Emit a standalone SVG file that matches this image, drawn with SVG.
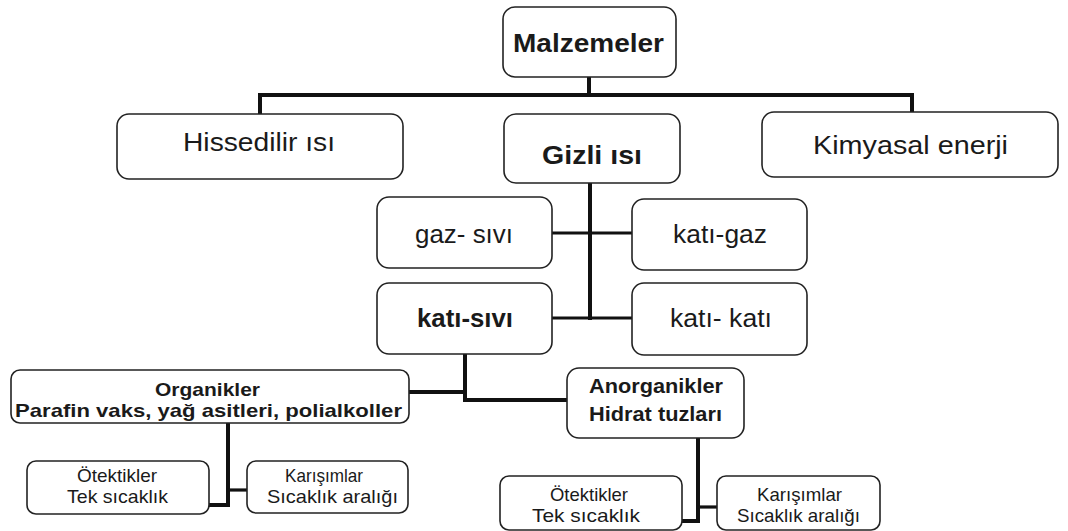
<svg xmlns="http://www.w3.org/2000/svg" width="1068" height="531" viewBox="0 0 1068 531">
<style>
.box{fill:#fff;stroke:#222;stroke-width:1.6}
.t{font-family:"Liberation Sans",Arial,sans-serif;fill:#1a1a1a}
.b{font-weight:bold}
.c{fill:none;stroke:#111;stroke-linecap:square;stroke-linejoin:miter}
.thick{stroke-width:4}
.thin{stroke-width:3.2}
</style>
<rect width="1068" height="531" fill="#fff"/>
<g id="connectors">
<path class="c thick" d="M589,77 V95 M260,114 V95 H912 V112"/>
<path class="c thick" d="M590,183 V318"/>
<path class="c thin" d="M552,233 H632 M552,318 H632"/>
<path class="c thick" d="M409,392 H465 M465,354 V400 H567"/>
<path class="c thick" d="M228,423 V505 H209"/>
<path class="c thin" d="M228,490 H247"/>
<path class="c thick" d="M698,438 V521 H682"/>
<path class="c thin" d="M698,507 H717"/>
</g>
<g id="malzemeler">
<rect class="box" x="503" y="7" width="173" height="70" rx="12"/>
<text class="t b" x="513" y="52" font-size="26" textLength="151" lengthAdjust="spacingAndGlyphs">Malzemeler</text>
</g>
<g id="hissedilir">
<rect class="box" x="117" y="114" width="286" height="65" rx="12"/>
<text class="t" x="183" y="151" font-size="26" textLength="152" lengthAdjust="spacingAndGlyphs">Hissedilir ısı</text>
</g>
<g id="gizli">
<rect class="box" x="504" y="114" width="176" height="69" rx="12"/>
<text class="t b" x="542" y="164" font-size="26" textLength="100" lengthAdjust="spacingAndGlyphs">Gizli ısı</text>
</g>
<g id="kimyasal">
<rect class="box" x="762" y="112" width="296" height="65" rx="12"/>
<text class="t" x="813" y="154" font-size="26" textLength="195" lengthAdjust="spacingAndGlyphs">Kimyasal enerji</text>
</g>
<g id="gaz-sivi">
<rect class="box" x="377" y="197" width="175" height="71" rx="12"/>
<text class="t" x="415" y="243" font-size="25" textLength="98" lengthAdjust="spacingAndGlyphs">gaz- sıvı</text>
</g>
<g id="kati-gaz">
<rect class="box" x="632" y="199" width="175" height="71" rx="12"/>
<text class="t" x="673" y="243" font-size="25" textLength="94" lengthAdjust="spacingAndGlyphs">katı-gaz</text>
</g>
<g id="kati-sivi">
<rect class="box" x="377" y="283" width="175" height="71" rx="12"/>
<text class="t b" x="417" y="327" font-size="25" textLength="96" lengthAdjust="spacingAndGlyphs">katı-sıvı</text>
</g>
<g id="kati-kati">
<rect class="box" x="632" y="283" width="175" height="72" rx="12"/>
<text class="t" x="670" y="327" font-size="25" textLength="102" lengthAdjust="spacingAndGlyphs">katı- katı</text>
</g>
<g id="organikler">
<rect class="box" x="11" y="370" width="398" height="53" rx="9"/>
<text class="t b" x="155" y="396" font-size="19" textLength="105" lengthAdjust="spacingAndGlyphs">Organikler</text>
<text class="t b" x="15" y="417" font-size="19" textLength="387" lengthAdjust="spacingAndGlyphs">Parafin vaks, yağ asitleri, polialkoller</text>
</g>
<g id="anorganikler">
<rect class="box" x="567" y="368" width="177" height="70" rx="12"/>
<text class="t b" x="589" y="393" font-size="21" textLength="134" lengthAdjust="spacingAndGlyphs">Anorganikler</text>
<text class="t b" x="589" y="421" font-size="21" textLength="133" lengthAdjust="spacingAndGlyphs">Hidrat tuzları</text>
</g>
<g id="otektikler-1">
<rect class="box" x="27" y="461" width="182" height="53" rx="9"/>
<text class="t" x="77" y="482" font-size="19" textLength="80" lengthAdjust="spacingAndGlyphs">Ötektikler</text>
<text class="t" x="67" y="503" font-size="19" textLength="101" lengthAdjust="spacingAndGlyphs">Tek sıcaklık</text>
</g>
<g id="karisimlar-1">
<rect class="box" x="247" y="461" width="161" height="52" rx="9"/>
<text class="t" x="285" y="482" font-size="19" textLength="78" lengthAdjust="spacingAndGlyphs">Karışımlar</text>
<text class="t" x="267" y="503" font-size="19" textLength="131" lengthAdjust="spacingAndGlyphs">Sıcaklık aralığı</text>
</g>
<g id="otektikler-2">
<rect class="box" x="500" y="476" width="182" height="54" rx="9"/>
<text class="t" x="550" y="501" font-size="19" textLength="78" lengthAdjust="spacingAndGlyphs">Ötektikler</text>
<text class="t" x="532" y="522" font-size="19" textLength="108" lengthAdjust="spacingAndGlyphs">Tek sıcaklık</text>
</g>
<g id="karisimlar-2">
<rect class="box" x="717" y="476" width="163" height="54" rx="9"/>
<text class="t" x="757" y="501" font-size="19" textLength="85" lengthAdjust="spacingAndGlyphs">Karışımlar</text>
<text class="t" x="737" y="522" font-size="19" textLength="123" lengthAdjust="spacingAndGlyphs">Sıcaklık aralığı</text>
</g>
</svg>
